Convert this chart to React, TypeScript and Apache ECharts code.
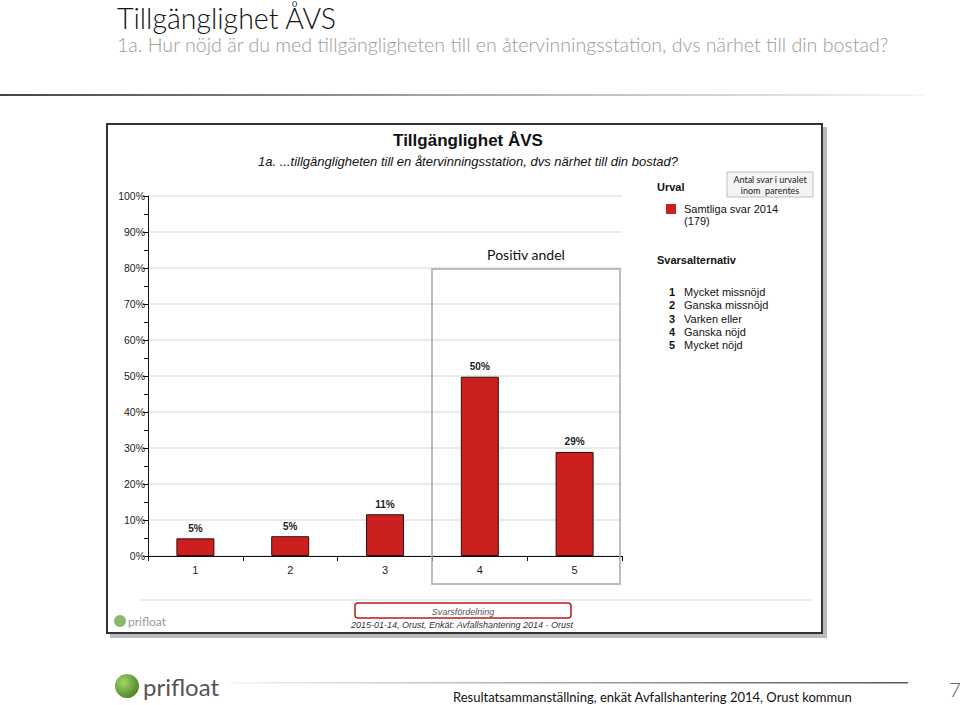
import React, { useEffect, useRef } from "react";
import * as echarts from "echarts";

const categories = ["1", "2", "3", "4", "5"];
const values = [4.9, 5.5, 11.6, 49.8, 28.9];
const valueLabels = ["5%", "5%", "11%", "50%", "29%"];
const answerNumbers = ["1", "2", "3", "4", "5"];
const answerTexts = ["Mycket missnöjd", "Ganska missnöjd", "Varken eller", "Ganska nöjd", "Mycket nöjd"];

export default function App() {
  const ref = useRef<HTMLDivElement>(null);
  useEffect(() => {
    if (!ref.current) return;
    const chart = echarts.init(ref.current, null, { renderer: "svg" });
    const answerGraphics: any[] = [];
    answerNumbers.forEach((n, i) => {
      const y = 292 + i * 13.3;
      answerGraphics.push({
        type: "text", x: 672, y, z: 10,
        style: { text: n, font: "bold 11px 'Liberation Sans', Arial", fill: "#111", align: "center", verticalAlign: "middle" },
      });
      answerGraphics.push({
        type: "text", x: 684, y, z: 10,
        style: { text: answerTexts[i], font: "11px 'Liberation Sans', Arial", fill: "#111", align: "left", verticalAlign: "middle" },
      });
    });
    chart.setOption({
      animation: false,
      backgroundColor: "#fff",
      grid: { left: 148, right: 338, top: 196, bottom: 149 },
      xAxis: {
        type: "category",
        data: categories,
        axisLine: { lineStyle: { color: "#111", width: 1 } },
        axisTick: { show: true, length: 5, lineStyle: { color: "#111" } },
        axisLabel: { color: "#222", fontSize: 11, fontFamily: "'Liberation Sans', Arial", margin: 8 },
      },
      yAxis: {
        type: "value",
        min: 0,
        max: 100,
        interval: 10,
        axisLine: { show: true, lineStyle: { color: "#111", width: 1 } },
        axisTick: { show: true, length: 5, lineStyle: { color: "#111" } },
        minorTick: { show: true, splitNumber: 2, length: 4, lineStyle: { color: "#111" } },
        axisLabel: { formatter: "{value}%", color: "#222", fontSize: 10.5, fontFamily: "'Liberation Sans', Arial", margin: 3, padding: [6, 0, 0, 0] },
        splitLine: { show: true, lineStyle: { color: "#e3e3e3", width: 1.5 } },
      },
      series: [
        {
          type: "bar",
          data: values,
          barWidth: 38,
          itemStyle: { color: "#cc1f1f", borderColor: "#3a0d0d", borderWidth: 1 },
          label: {
            show: true,
            position: "top",
            distance: 5,
            formatter: (p: any) => valueLabels[p.dataIndex],
            fontSize: 10,
            fontWeight: "bold",
            fontFamily: "'Liberation Sans', Arial",
            color: "#222",
          },
          z: 3,
        },
      ],
      graphic: [
        { type: "text", x: 117, y: 18, z: 10, style: { text: "Tillgänglighet ÅVS", font: "300 28.5px 'Lato', sans-serif", fill: "#111", verticalAlign: "middle" } },
        { type: "text", x: 117, y: 44, z: 10, style: { text: "1a. Hur nöjd är du med tillgängligheten till en återvinningsstation, dvs närhet till din bostad?", font: "300 19.6px 'Lato', sans-serif", fill: "#9a9a9a", verticalAlign: "middle" } },
        {
          type: "rect", z: 10, shape: { x: 0, y: 94, width: 925, height: 2 },
          style: { fill: new echarts.graphic.LinearGradient(0, 0, 1, 0, [{ offset: 0, color: "#444" }, { offset: 0.5, color: "#aaa" }, { offset: 1, color: "#f6f6f6" }]) },
        },
        { type: "rect", z: -20, shape: { x: 110, y: 127, width: 717, height: 511 }, style: { fill: "#bbb" } },
        { type: "rect", z: -19, shape: { x: 107, y: 124, width: 715, height: 509 }, style: { fill: "#fff", stroke: "#333", lineWidth: 2 } },
        { type: "text", x: 468, y: 140, z: 10, style: { text: "Tillgänglighet ÅVS", font: "bold 17px 'Liberation Sans', Arial", fill: "#111", align: "center", verticalAlign: "middle" } },
        { type: "text", x: 468, y: 161, z: 10, style: { text: "1a. ...tillgängligheten till en återvinningsstation, dvs närhet till din bostad?", font: "italic 13px 'Liberation Sans', Arial", fill: "#111", align: "center", verticalAlign: "middle" } },
        { type: "text", x: 657, y: 187, z: 10, style: { text: "Urval", font: "bold 11px 'Liberation Sans', Arial", fill: "#111", verticalAlign: "middle" } },
        { type: "rect", z: 9, shape: { x: 727, y: 172, width: 86, height: 25 }, style: { fill: "#f3f3f3", stroke: "#bdbdbd", lineWidth: 1 } },
        { type: "text", x: 770, y: 179.5, z: 10, style: { text: "Antal svar i urvalet", font: "9px 'Lato', sans-serif", fill: "#222", align: "center", verticalAlign: "middle" } },
        { type: "text", x: 770, y: 190.5, z: 10, style: { text: "inom  parentes", font: "9px 'Lato', sans-serif", fill: "#222", align: "center", verticalAlign: "middle" } },
        { type: "rect", z: 10, shape: { x: 666, y: 204, width: 10, height: 10 }, style: { fill: "#cc1f1f" } },
        { type: "text", x: 684, y: 209, z: 10, style: { text: "Samtliga svar 2014", font: "11px 'Liberation Sans', Arial", fill: "#111", verticalAlign: "middle" } },
        { type: "text", x: 684, y: 221, z: 10, style: { text: "(179)", font: "11px 'Liberation Sans', Arial", fill: "#111", verticalAlign: "middle" } },
        { type: "text", x: 657, y: 260, z: 10, style: { text: "Svarsalternativ", font: "bold 11px 'Liberation Sans', Arial", fill: "#111", verticalAlign: "middle" } },
        ...answerGraphics,
        { type: "text", x: 526, y: 254, z: 10, style: { text: "Positiv andel", font: "14px 'Lato', sans-serif", fill: "#111", align: "center", verticalAlign: "middle" } },
        { type: "rect", z: 1, shape: { x: 432, y: 269, width: 188, height: 315 }, style: { fill: "none", stroke: "#a8a8a8", lineWidth: 1.5 } },
        { type: "rect", z: 1, shape: { x: 140, y: 599.5, width: 672, height: 1 }, style: { fill: "#dcdcdc" } },
        { type: "circle", z: 10, shape: { cx: 120, cy: 621, r: 6 }, style: { fill: "#8cb86a" } },
        { type: "text", x: 128, y: 621, z: 10, style: { text: "prifloat", font: "12px 'Lato', sans-serif", fill: "#9a9a9a", verticalAlign: "middle" } },
        { type: "rect", z: 10, shape: { x: 355, y: 603, width: 216, height: 15, r: 3 }, style: { fill: "none", stroke: "#c01818", lineWidth: 1.5 } },
        { type: "text", x: 463, y: 612, z: 10, style: { text: "Svarsfördelning", font: "italic 9px 'Liberation Sans', Arial", fill: "#555", align: "center", verticalAlign: "middle" } },
        { type: "text", x: 462, y: 625, z: 10, style: { text: "2015-01-14, Orust, Enkät: Avfallshantering 2014 - Orust", font: "italic 9px 'Liberation Sans', Arial", fill: "#333", align: "center", verticalAlign: "middle" } },
        {
          type: "circle", z: 10, shape: { cx: 127, cy: 686, r: 12 },
          style: { fill: new echarts.graphic.RadialGradient(0.35, 0.35, 0.8, [{ offset: 0, color: "#a6d46a" }, { offset: 1, color: "#3d7a1c" }]) },
        },
        { type: "text", x: 143, y: 686, z: 10, style: { text: "prifloat", font: "24px 'Lato', sans-serif", fill: "#555", verticalAlign: "middle" } },
        {
          type: "rect", z: 10, shape: { x: 230, y: 682, width: 678, height: 1.5 },
          style: { fill: new echarts.graphic.LinearGradient(0, 0, 1, 0, [{ offset: 0, color: "#f4f4f4" }, { offset: 1, color: "#555" }]) },
        },
        { type: "text", x: 453, y: 697, z: 10, style: { text: "Resultatsammanställning, enkät Avfallshantering 2014, Orust kommun", font: "13px 'Lato', sans-serif", fill: "#111", verticalAlign: "middle" } },
        { type: "text", x: 955, y: 689, z: 10, style: { text: "7", font: "300 20px 'Lato', sans-serif", fill: "#666", align: "center", verticalAlign: "middle" } },
      ],
    });
    return () => chart.dispose();
  }, []);
  return <div ref={ref} style={{ width: 960, height: 705, position: "absolute", left: 0, top: 0 }} />;
}
